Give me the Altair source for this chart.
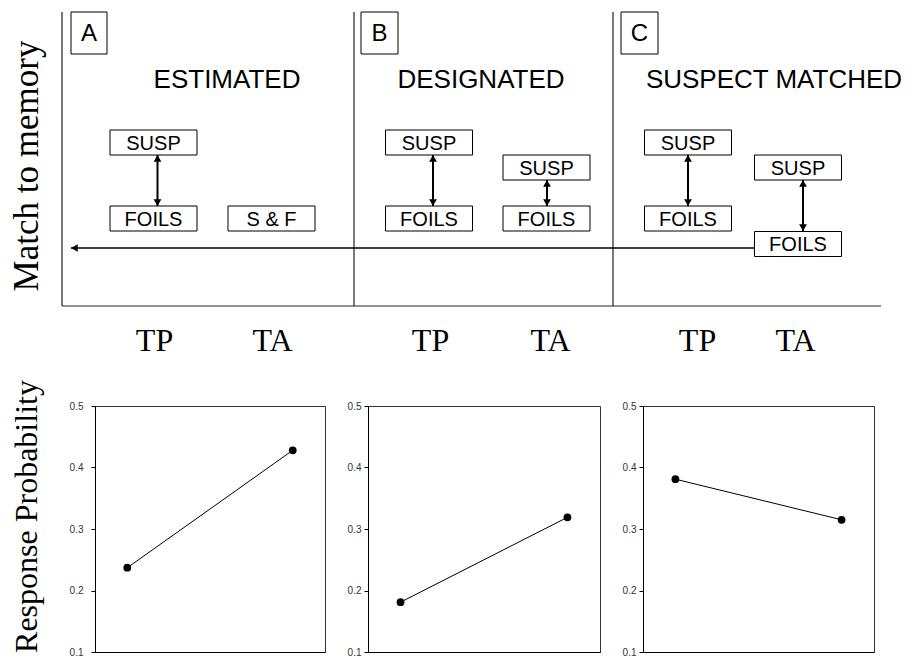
import altair as alt
import pandas as pd

# ---------------- top schematic (diagram units: x 0..819, y 0..294 = match to memory) ----------------
X_MIN = 33      # the plot area of the schematic starts here (aligned with the lower panels)
X_MAX = 819
Y_MAX = 294
divider_x = [292, 551]
box_label = ["SUSP", "FOILS", "S & F", "SUSP", "FOILS", "SUSP", "FOILS", "SUSP", "FOILS", "SUSP", "FOILS"]
box_x = [91.5, 91.5, 209.5, 367, 367, 484.5, 484.5, 626, 626, 736, 736]
box_y = [163.5, 87.5, 87.5, 163.5, 87.5, 138.5, 87.5, 163.5, 87.5, 138.5, 62]
box_w = 87
box_h = 25
arrow_x = [95.5, 371, 485, 626, 741]
arrow_lo = [100, 100, 100, 100, 75]
arrow_hi = [151, 151, 126, 151, 126]
head_inset = 3.4
panel_letter = ["A", "B", "C"]
letter_x0 = [9, 299, 559]
letter_x1 = [45, 336, 596]
letter_y0 = 252
panel_title = ["ESTIMATED", "DESIGNATED", "SUSPECT MATCHED"]
title_x = [165, 419, 712]
title_y = 227
cond_pos = [92, 210, 368, 488, 635, 733]
cond_lab = ["TP", "TA", "TP", "TA", "TP", "TA"]
baseline_y = 58
baseline_x0 = 693
baseline_x1 = 9
ytitle = "Match to memory"
ytitle_x = -35.5
ytitle_y = 140

# ---------------- bottom panels ----------------
conditions = ["TP", "TA"]
prob_estimated = [0.237, 0.428]
prob_designated = [0.181, 0.319]
prob_suspect = [0.381, 0.315]
prob_ticks = [0.1, 0.2, 0.3, 0.4, 0.5]

SERIF = "Liberation Serif"
SANS = "Liberation Sans"

xs = alt.Scale(domain=[X_MIN, X_MAX], nice=False, zero=False)
ys = alt.Scale(domain=[0, Y_MAX], nice=False, zero=False)

label_expr = " : ".join(f"datum.value == {p} ? '{l}'" for p, l in zip(cond_pos, cond_lab)) + " : ''"
x_axis = alt.Axis(values=cond_pos, labelExpr=label_expr, title=None, ticks=False, tickSize=0,
                  domain=False, grid=False, labelFont=SERIF, labelFontSize=32,
                  labelColor="black", labelPadding=19, labelFlush=False, labelOverlap=False)


def X(f):
    return alt.X(f, type="quantitative", scale=xs, axis=x_axis)


def Y(f):
    return alt.Y(f, type="quantitative", scale=ys, axis=None)


# axis frame lines (left and bottom) of the schematic
frame_df = pd.DataFrame({"x0": [0, 0], "x1": [0, X_MAX], "y0": [0, 0], "y1": [Y_MAX, 0]})
frame = alt.Chart(frame_df).mark_rule(color="#222", strokeWidth=1.2).encode(
    x=X("x0"), x2="x1", y=Y("y0"), y2="y1")

div_df = pd.DataFrame({"x": divider_x, "lo": [0] * len(divider_x), "hi": [Y_MAX] * len(divider_x)})
dividers = alt.Chart(div_df).mark_rule(color="#222", strokeWidth=1.2).encode(
    x=X("x"), y=Y("lo"), y2="hi")

base_df = pd.DataFrame({"x0": [baseline_x0], "x1": [baseline_x1], "y": [baseline_y]})
baseline = alt.Chart(base_df).mark_rule(color="black", strokeWidth=1.5).encode(
    x=X("x0"), x2="x1", y=Y("y"))
base_head_df = pd.DataFrame({"x": [baseline_x1 + head_inset], "y": [baseline_y]})
base_head = alt.Chart(base_head_df).mark_point(shape="triangle-left", filled=True, size=60,
                                               color="black", opacity=1).encode(x=X("x"), y=Y("y"))

arr_df = pd.DataFrame({"x": arrow_x, "lo": arrow_lo, "hi": arrow_hi})
arrows = alt.Chart(arr_df).mark_rule(color="black", strokeWidth=2).encode(
    x=X("x"), y=Y("lo"), y2="hi")
up_df = pd.DataFrame({"x": arrow_x, "y": [h - head_inset for h in arrow_hi]})
down_df = pd.DataFrame({"x": arrow_x, "y": [l + head_inset for l in arrow_lo]})
heads_up = alt.Chart(up_df).mark_point(shape="triangle-up", filled=True, size=60, color="black",
                                       opacity=1).encode(x=X("x"), y=Y("y"))
heads_down = alt.Chart(down_df).mark_point(shape="triangle-down", filled=True, size=60, color="black",
                                           opacity=1).encode(x=X("x"), y=Y("y"))

box_df = pd.DataFrame({
    "label": box_label,
    "x": box_x,
    "y": box_y,
    "x0": [v - box_w / 2 for v in box_x],
    "x1": [v + box_w / 2 for v in box_x],
    "y0": [v - box_h / 2 for v in box_y],
    "y1": [v + box_h / 2 for v in box_y],
})
boxes = alt.Chart(box_df).mark_rect(fill="white", stroke="black", strokeWidth=1).encode(
    x=X("x0"), x2="x1", y=Y("y0"), y2="y1")
box_text = alt.Chart(box_df).mark_text(font=SANS, fontSize=20, color="black", baseline="middle",
                                       align="center", dy=1).encode(x=X("x"), y=Y("y"), text="label")

let_df = pd.DataFrame({
    "label": panel_letter,
    "x0": letter_x0,
    "x1": letter_x1,
    "xc": [(a + b) / 2 for a, b in zip(letter_x0, letter_x1)],
    "y0": [letter_y0] * 3,
    "y1": [Y_MAX] * 3,
    "yc": [(letter_y0 + Y_MAX) / 2] * 3,
})
letter_boxes = alt.Chart(let_df).mark_rect(fill="white", stroke="black", strokeWidth=1).encode(
    x=X("x0"), x2="x1", y=Y("y0"), y2="y1")
letter_text = alt.Chart(let_df).mark_text(font=SANS, fontSize=24, color="black", baseline="middle",
                                          align="center", dy=1).encode(x=X("xc"), y=Y("yc"), text="label")

title_df = pd.DataFrame({"label": panel_title, "x": title_x, "y": [title_y] * 3})
titles = alt.Chart(title_df).mark_text(font=SANS, fontSize=26, color="black", baseline="middle",
                                       align="center", dy=1).encode(x=X("x"), y=Y("y"), text="label")

yt_df = pd.DataFrame({"label": [ytitle], "x": [ytitle_x], "y": [ytitle_y]})
ytitle_mark = alt.Chart(yt_df).mark_text(font=SERIF, fontSize=35, color="black", baseline="middle",
                                         align="center", angle=270).encode(x=X("x"), y=Y("y"), text="label")

top = alt.layer(frame, dividers, baseline, base_head, arrows, heads_up, heads_down, boxes, box_text,
                letter_boxes, letter_text, titles, ytitle_mark).properties(
    width=X_MAX - X_MIN, height=Y_MAX, view=alt.ViewBackground(stroke="transparent"))


def panel(vals, w, pad, with_title):
    df = pd.DataFrame({"cond": conditions, "p": vals})
    ax_kw = dict(values=prob_ticks, format=".1f", grid=False, tickSize=4, tickColor="black",
                 domainColor="black", labelFont=SANS, labelFontSize=10, labelColor="#333",
                 labelPadding=pad)
    if with_title:
        yax = alt.Axis(title="Response Probability", titleFont=SERIF, titleFontSize=32,
                       titleFontWeight="normal", titleColor="black", titlePadding=26, titleY=110,
                       **ax_kw)
    else:
        yax = alt.Axis(title=None, **ax_kw)
    x = alt.X("cond:N", sort=conditions, scale=alt.Scale(type="point", padding=0.195),
              axis=alt.Axis(labels=False, ticks=False, title=None, domainColor="black", grid=False))
    y = alt.Y("p:Q", scale=alt.Scale(domain=[0.1, 0.5], nice=False, zero=False), axis=yax)
    line = alt.Chart(df).mark_line(color="black", strokeWidth=1).encode(x=x, y=y)
    pts = alt.Chart(df).mark_point(filled=True, size=60, color="black", opacity=1).encode(x=x, y=y)
    return alt.layer(line, pts).properties(
        width=w, height=246, view=alt.ViewBackground(stroke="#333", strokeWidth=1))


bottom = alt.hconcat(
    panel(prob_estimated, 230, 8, True),
    panel(prob_designated, 232, 3, False),
    panel(prob_suspect, 231, 3, False),
    spacing=20,
)

chart = alt.concat(top, bottom, columns=1, spacing=22).properties(
    padding={"left": 1, "top": 2, "right": 3, "bottom": 0}
).configure_axis(grid=False)

chart.save("out.html", embed_options={"renderer": "svg", "actions": False})
